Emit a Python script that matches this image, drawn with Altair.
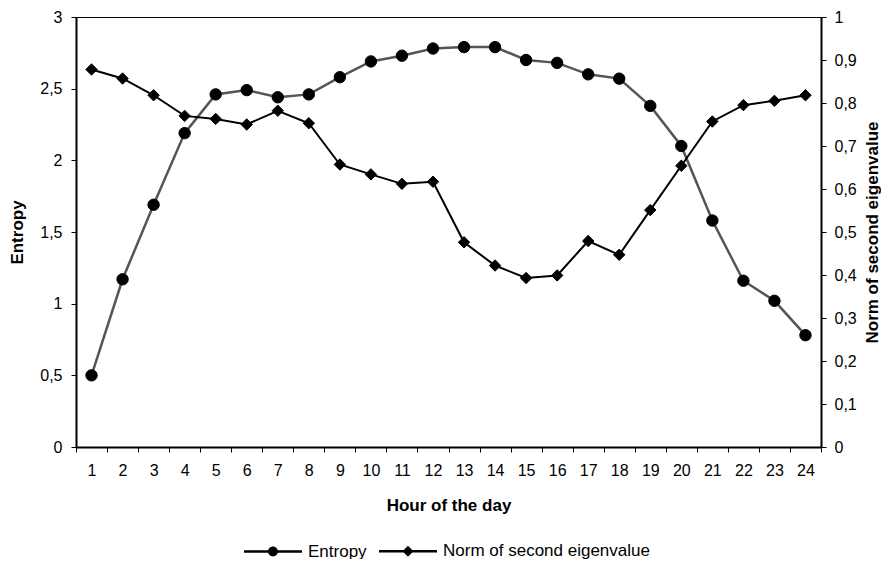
import altair as alt
import pandas as pd

hours = list(range(1, 25))
entropy = [0.50, 1.17, 1.69, 2.19, 2.46, 2.49, 2.44, 2.46, 2.58, 2.69, 2.73, 2.78,
           2.79, 2.79, 2.70, 2.68, 2.60, 2.57, 2.38, 2.10, 1.58, 1.16, 1.02, 0.78]
norm = [0.878, 0.857, 0.818, 0.770, 0.763, 0.750, 0.782, 0.753, 0.657, 0.634, 0.612, 0.617,
        0.476, 0.422, 0.393, 0.399, 0.479, 0.447, 0.551, 0.654, 0.757, 0.795, 0.805, 0.818]
series = ["Entropy", "Norm of second eigenvalue"]

df = pd.DataFrame({"hour": hours, "entropy": entropy, "norm": norm})

FONT = "Liberation Sans"
LABEL_SIZE = 16
TITLE_SIZE = 17
# legend glyphs: a thin filled bar with a marker in its middle (all filled, same winding)
circle_path = ("M-1,-0.04H1V0.04H-1Z"
               "M0.17,0A0.17,0.17 0 1,1 -0.17,0A0.17,0.17 0 1,1 0.17,0Z")
diamond_path = ("M-1,-0.04H1V0.04H-1Z"
                "M0,-0.19L0.19,0L0,0.19L-0.19,0Z")

x = alt.X("hour:O", title="Hour of the day",
          scale=alt.Scale(type="band", paddingInner=0, paddingOuter=0),
          axis=alt.Axis(labelAngle=0, tickBand="extent", domainWidth=2, domainColor="black",
                        tickColor="black", tickSize=5, labelPadding=10, titlePadding=19))

ent_line = alt.Chart(df).mark_line(color="#555555", strokeWidth=2.5).encode(
    x=x,
    y=alt.Y("entropy:Q", title="Entropy",
            scale=alt.Scale(domain=[0, 3], nice=False),
            axis=alt.Axis(values=[0, 0.5, 1, 1.5, 2, 2.5, 3], grid=False, domainWidth=2,
                          domainColor="black", tickColor="black", tickSize=5, labelPadding=9,
                          labelExpr="replace(format(datum.value, ''), '.', ',')",
                          titlePadding=13)),
)
ent_pts = alt.Chart(df).mark_point(
    shape="circle", filled=True, fill="black", stroke="black", strokeWidth=1, opacity=1,
    size=130).encode(x=x, y=alt.Y("entropy:Q"))

# legend-only layer (no rows drawn; the explicit domain keeps both entries)
legend_layer = alt.Chart(df).transform_filter("false").transform_calculate(
    series="'Entropy'").mark_point(
    filled=True, fill="black", opacity=1).encode(
    x=x, y=alt.Y("entropy:Q"),
    shape=alt.Shape("series:N", scale=alt.Scale(domain=series, range=[circle_path, diamond_path]),
                    legend=alt.Legend(title=None, orient="none", direction="horizontal",
                                      legendX=167, legendY=504, symbolSize=3364,
                                      symbolFillColor="black", labelLimit=400,
                                      labelFontSize=TITLE_SIZE, labelFont=FONT, labelColor="black",
                                      columnPadding=9, labelOffset=5)),
)

norm_line = alt.Chart(df).mark_line(color="black", strokeWidth=2).encode(
    x=x,
    y=alt.Y("norm:Q", title="Norm of second eigenvalue",
            scale=alt.Scale(domain=[0, 1], nice=False),
            axis=alt.Axis(orient="right", values=[0, 0.1, 0.2, 0.3, 0.4, 0.5, 0.6, 0.7, 0.8, 0.9, 1],
                          grid=False, domainWidth=2, domainColor="black", tickColor="black",
                          tickSize=5, titleAngle=270, titlePadding=25, labelPadding=8,
                          labelExpr="replace(format(datum.value, ''), '.', ',')")),
)
norm_pts = alt.Chart(df).mark_point(
    shape="diamond", filled=True, fill="black", stroke="black", strokeWidth=1, opacity=1,
    size=130).encode(x=x, y=alt.Y("norm:Q"))

left = alt.layer(ent_line, ent_pts, legend_layer)
right = alt.layer(norm_line, norm_pts)

chart = alt.layer(left, right).resolve_scale(y="independent").properties(
    width=745, height=430,
    autosize=alt.AutoSizeParams(type="none"),
    padding={"left": 68, "top": 9, "right": 60, "bottom": 112},
).configure_view(stroke="black", strokeWidth=1).configure_axis(
    labelFont=FONT, labelFontSize=LABEL_SIZE, labelColor="black",
    titleFont=FONT, titleFontSize=TITLE_SIZE, titleFontWeight="bold", titleColor="black",
)

chart.save("out.html", embed_options={"renderer": "svg", "actions": False})
